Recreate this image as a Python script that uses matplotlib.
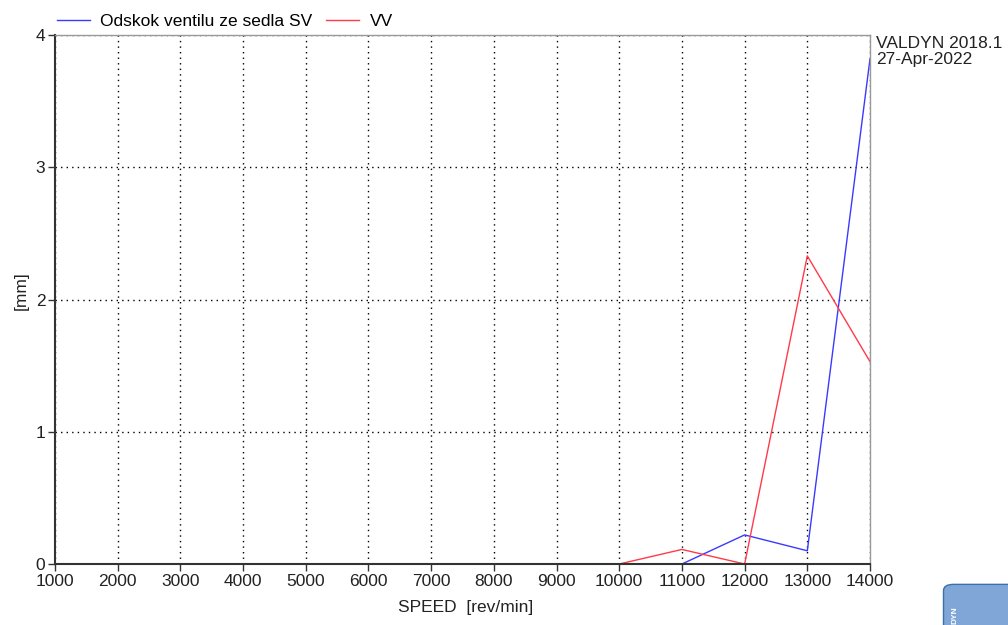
import matplotlib
matplotlib.use("Agg")
import matplotlib.pyplot as plt
from matplotlib.patches import FancyBboxPatch

plt.rcParams['font.family'] = ['Liberation Sans', 'DejaVu Sans']

# data
speed = [1000, 2000, 3000, 4000, 5000, 6000, 7000, 8000, 9000, 10000, 11000, 12000, 13000, 14000]
odskok_sv = [0, 0, 0, 0, 0, 0, 0, 0, 0, 0, 0.0, 0.22, 0.10, 3.82]
odskok_vv = [0, 0, 0, 0, 0, 0, 0, 0, 0, 0, 0.11, 0.0, 2.33, 1.53]
y_ticks = [0, 1, 2, 3, 4]

fs = 12.5

fig = plt.figure(figsize=(10.08, 6.25), dpi=100)
ax = fig.add_axes([0.0546, 0.0976, 0.8085, 0.8464])

ax.plot(speed, odskok_sv, color='#3a3aff', linewidth=1.0, label='Odskok ventilu ze sedla SV')
ax.plot(speed, odskok_vv, color='#ff3a4a', linewidth=1.0, label='VV')

ax.set_xlim(1000, 14000)
ax.set_ylim(0, 4)
ax.set_xticks(speed)
ax.set_yticks(y_ticks)
ax.tick_params(labelsize=fs, length=5, width=1, color='#333333', pad=2, labelcolor='#222222')
ax.grid(True, color='black', linestyle=(0, (1, 3)), linewidth=1.0)

for side in ['left', 'bottom']:
    ax.spines[side].set_color('#333333')
    ax.spines[side].set_linewidth(1.5)
for side in ['top', 'right']:
    ax.spines[side].set_color('#999999')
    ax.spines[side].set_linewidth(1.0)

ax.set_xlabel('SPEED  [rev/min]', fontsize=fs, va='center', color='#222222')
ax.xaxis.set_label_coords(0.504, -0.083)
ax.set_ylabel('[mm]', fontsize=fs, va='center', color='#222222')
ax.yaxis.set_label_coords(-0.0417, 0.516)

ax.legend(loc='lower left', bbox_to_anchor=(0.0, 1.008), ncol=2, frameon=False,
          fontsize=fs, handlelength=1.9, handletextpad=0.6, borderaxespad=0,
          borderpad=0.1, columnspacing=0.8)

fig.text(0.869, 0.943, 'VALDYN 2018.1\n27-Apr-2022', fontsize=fs, va='top',
         ha='left', linespacing=1.15, color='#222222')

# logo hint bottom right
logo = FancyBboxPatch((0.936, -0.02), 0.08, 0.085, boxstyle='round,pad=0,rounding_size=0.01',
                      transform=fig.transFigure, facecolor='#7fa6d6', edgecolor='#3d6fa8')
fig.patches.append(logo)
fig.text(0.944, 0.005, 'DYN', rotation=90, fontsize=6, color='white', fontweight='bold')

fig.savefig('out.png', dpi=100)
